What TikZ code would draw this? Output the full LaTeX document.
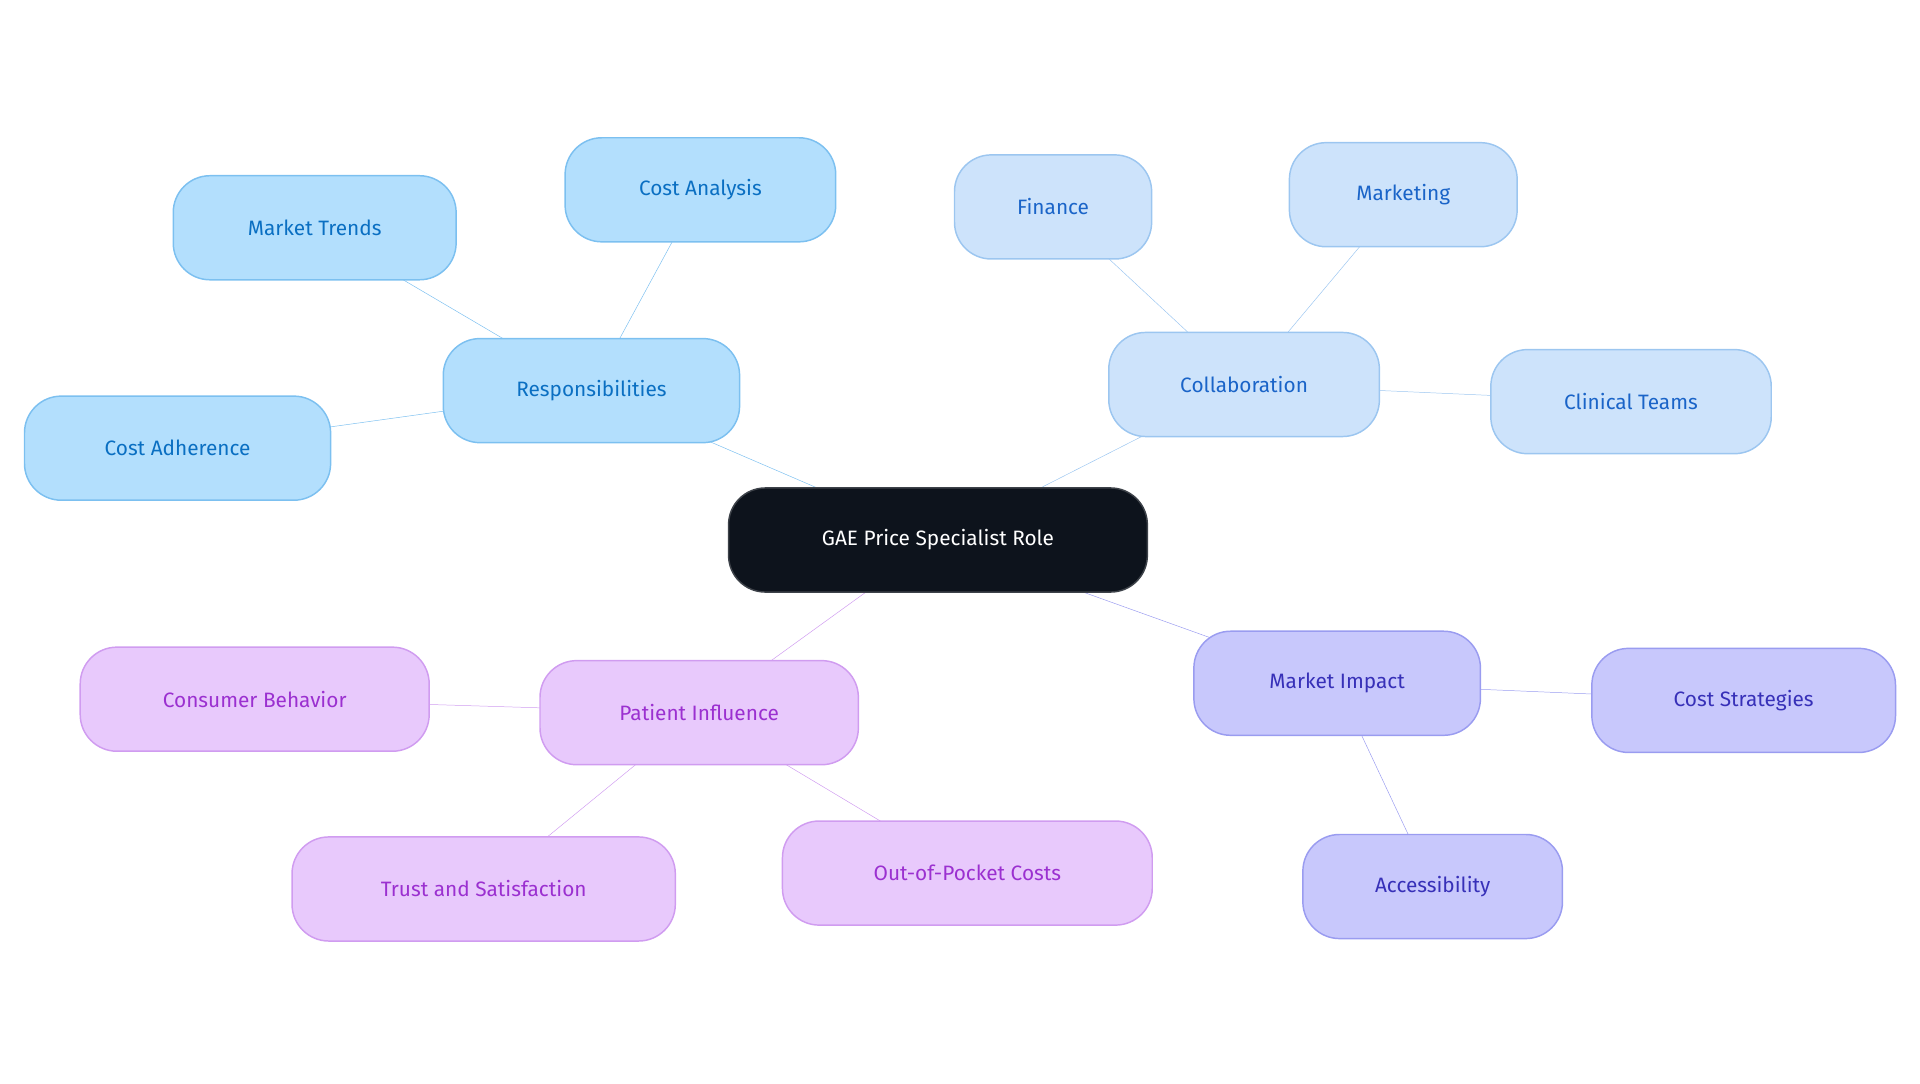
\documentclass[tikz,border=0pt]{standalone}
\usepackage{fontspec}
\setmainfont{Fira Sans}
\usetikzlibrary{backgrounds}
\definecolor{rootfill}{HTML}{0D131C}
\definecolor{bfill}{HTML}{B3DFFD}\definecolor{bdraw}{HTML}{7CC0F0}\definecolor{btext}{HTML}{0A6FC2}
\definecolor{lfill}{HTML}{CDE3FB}\definecolor{ldraw}{HTML}{9CC6F0}\definecolor{ltext}{HTML}{1A64C8}
\definecolor{vfill}{HTML}{C8C8FC}\definecolor{vdraw}{HTML}{9A9CF0}\definecolor{vtext}{HTML}{3730B8}
\definecolor{pfill}{HTML}{E8C9FC}\definecolor{pdraw}{HTML}{D09CF0}\definecolor{ptext}{HTML}{9B30D0}
\tikzset{
	topic/.style={
		rectangle, rounded corners=30pt, minimum height=85pt, line width=1.2pt,
		font=\fontsize{17}{20}\selectfont
	},
	%
	root/.style={topic, fill=rootfill, draw=rootfill!80, text=white},
	resp/.style={topic, fill=bfill, draw=bdraw, text=btext},
	coll/.style={topic, fill=lfill, draw=ldraw, text=ltext},
	impc/.style={topic, fill=vfill, draw=vdraw, text=vtext},
	pati/.style={topic, fill=pfill, draw=pdraw, text=ptext},
	%
	link/.style={line width=3pt}
}
\begin{document}
\begin{tikzpicture}[x=1pt,y=-1pt]
\useasboundingbox (0,0) rectangle (1568,885);
\node(role)[root, minimum width=342pt] at (766,441) {GAE Price Specialist Role};
% responsibilities
\node(resp)[resp, minimum width=242pt] at (483,319) {Responsibilities};
\node(trends)[resp, minimum width=231pt] at (257,186) {Market Trends};
\node(analysis)[resp, minimum width=221pt] at (572,155) {Cost Analysis};
\node(adherence)[resp, minimum width=250pt] at (145,366) {Cost Adherence};
% collaboration
\node(coll)[coll, minimum width=221pt] at (1016,314) {Collaboration};
\node(finance)[coll, minimum width=161pt] at (860,169) {Finance};
\node(marketing)[coll, minimum width=186pt] at (1146,159) {Marketing};
\node(clinical)[coll, minimum width=229pt] at (1332,328) {Clinical Teams};
% market impact
\node(impact)[impc, minimum width=234pt] at (1092,558) {Market Impact};
\node(strategies)[impc, minimum width=248pt] at (1424,572) {Cost Strategies};
\node(access)[impc, minimum width=212pt] at (1170,724) {Accessibility};
% patient influence
\node(patient)[pati, minimum width=260pt] at (571,582) {Patient Influence};
\node(consumer)[pati, minimum width=285pt] at (208,571) {Consumer Behavior};
\node(trust)[pati, minimum width=313pt] at (395,726) {Trust and Satisfaction};
\node(pocket)[pati, minimum width=302pt] at (790,713) {Out-of-Pocket Costs};
\begin{scope}[on background layer, link]
\draw[bdraw] (role.center) -- (resp.center);
\foreach \n in {trends,analysis,adherence} \draw[bdraw] (resp.center) -- (\n.center);
\draw[ldraw] (role.center) -- (coll.center);
\foreach \n in {finance,marketing,clinical} \draw[ldraw] (coll.center) -- (\n.center);
\draw[vdraw] (role.center) -- (impact.center);
\foreach \n in {strategies,access} \draw[vdraw] (impact.center) -- (\n.center);
\draw[pdraw] (role.center) -- (patient.center);
\foreach \n in {consumer,trust,pocket} \draw[pdraw] (patient.center) -- (\n.center);
\end{scope}
\end{tikzpicture}
\end{document}
